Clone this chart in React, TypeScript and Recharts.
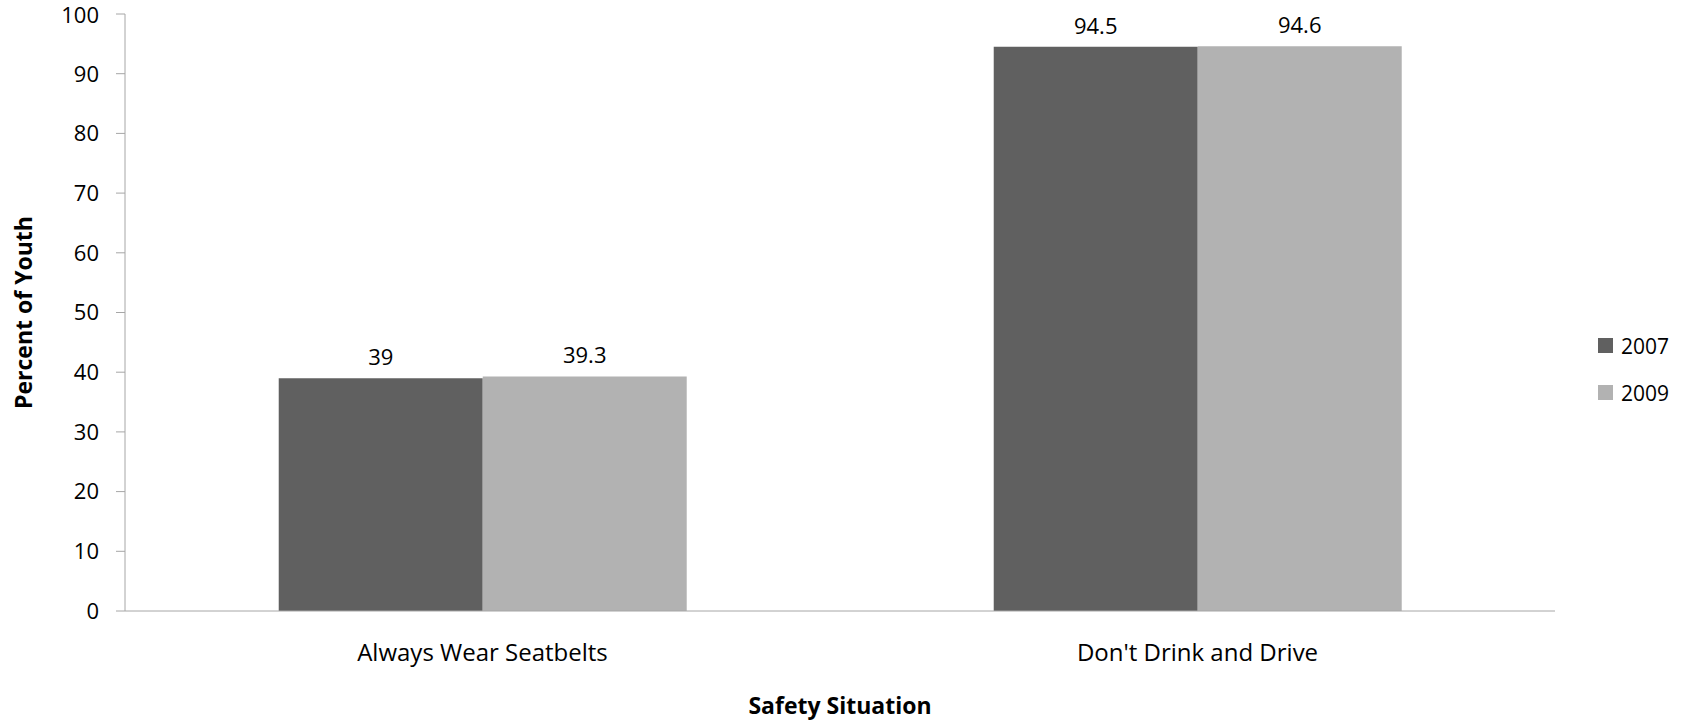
import { BarChart, Bar, XAxis, YAxis, Legend, LabelList } from "recharts";

const categories = ["Always Wear Seatbelts", "Don't Drink and Drive"];
const values2007 = [39, 94.5];
const values2009 = [39.3, 94.6];
const yTicks = [0, 10, 20, 30, 40, 50, 60, 70, 80, 90, 100];

const DARK = "#606060";
const LIGHT = "#b2b2b2";
const AXIS = "#a6a6a6";
const FONT = "'Open Sans', Lato, sans-serif";

const data = categories.map((name, i) => ({
  name,
  y2007: values2007[i],
  y2009: values2009[i],
}));

function LegendBox(props: any) {
  const items = props.payload || [];
  return (
    <div style={{ fontFamily: FONT, fontSize: 21, color: "#000" }}>
      {items.map((it: any) => (
        <div
          key={it.value}
          style={{ display: "flex", alignItems: "center", height: 47 }}
        >
          <span
            style={{
              width: 15,
              height: 15,
              background: it.color,
              display: "inline-block",
              marginRight: 8,
            }}
          />
          {it.value}
        </div>
      ))}
    </div>
  );
}

export default function App() {
  return (
    <div style={{ position: "absolute", left: 0, top: 0, background: "#fff" }}>
      <BarChart
        width={1690}
        height={721}
        data={data}
        margin={{ top: 14, right: 135, bottom: 0, left: 0 }}
        barGap={0}
        barCategoryGap="21.5%"
      >
        <XAxis
          dataKey="name"
          height={110}
          stroke={AXIS}
          tickLine={false}
          tickMargin={27}
          tick={{ fill: "#000", fontSize: 24, fontFamily: FONT }}
          label={{
            value: "Safety Situation",
            position: "insideBottom",
            offset: 7,
            style: { fill: "#000", fontSize: 23, fontWeight: 700, fontFamily: FONT },
          }}
        />
        <YAxis
          width={125}
          domain={[0, 100]}
          ticks={yTicks}
          stroke={AXIS}
          tickSize={9}
          tickMargin={17}
          tick={{ fill: "#000", fontSize: 22, fontFamily: FONT }}
          label={{
            value: "Percent of Youth",
            angle: -90,
            position: "insideLeft",
            offset: 24,
            style: {
              fill: "#000",
              fontSize: 23,
              fontWeight: 700,
              fontFamily: FONT,
              textAnchor: "middle",
            },
          }}
        />
        <Legend
          layout="vertical"
          align="center"
          verticalAlign="middle"
          content={<LegendBox />}
          wrapperStyle={{ left: 1598, top: 322, width: "auto" }}
        />
        <Bar dataKey="y2007" name="2007" fill={DARK} isAnimationActive={false}>
          <LabelList
            dataKey="y2007"
            position="top"
            offset={13}
            style={{ fill: "#000", fontSize: 22, fontFamily: FONT }}
          />
        </Bar>
        <Bar dataKey="y2009" name="2009" fill={LIGHT} isAnimationActive={false}>
          <LabelList
            dataKey="y2009"
            position="top"
            offset={13}
            style={{ fill: "#000", fontSize: 22, fontFamily: FONT }}
          />
        </Bar>
      </BarChart>
    </div>
  );
}
